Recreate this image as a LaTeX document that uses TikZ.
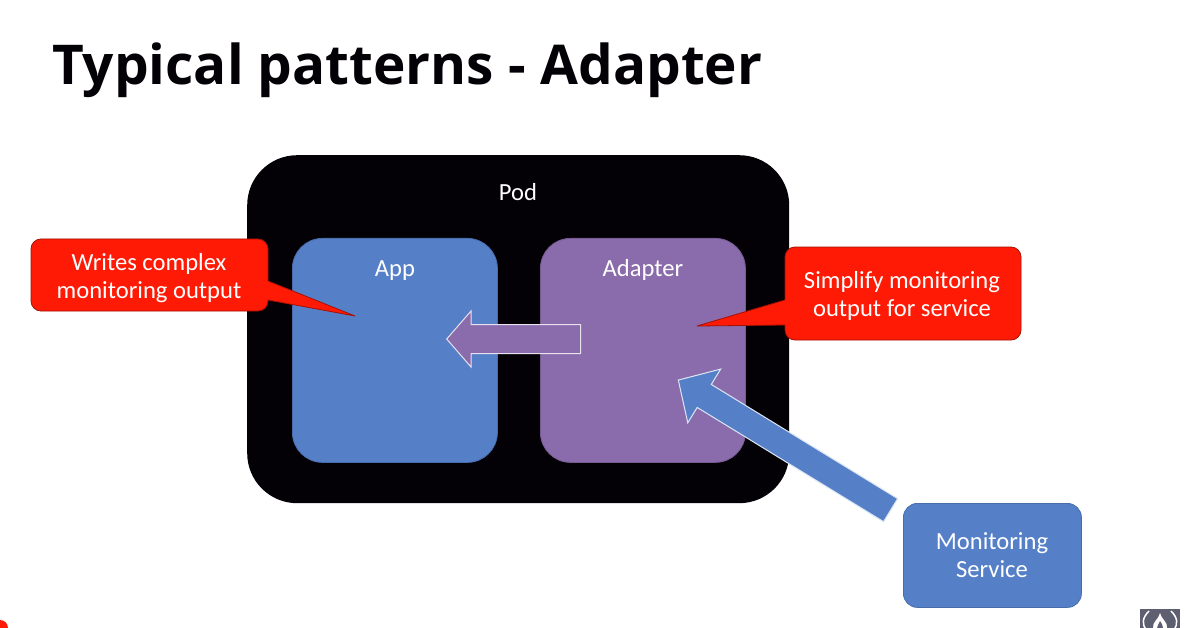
\documentclass[tikz,border=0pt]{standalone}
\usepackage{fontspec}
\setmainfont{Carlito}
\newfontfamily\titlefont{Open Sans}
\usetikzlibrary{shapes.arrows}
\definecolor{podblack}{HTML}{030006}
\definecolor{appblue}{HTML}{5580C8}
\definecolor{adapterpurple}{HTML}{8A6BAB}
\definecolor{calloutred}{HTML}{FF1A05}
\definecolor{logogray}{HTML}{5F5F72}
\begin{document}
\begin{tikzpicture}[x=1pt,y=-1pt,
  box/.style={rectangle,inner sep=0pt,rounded corners=30pt,draw=#1!85!black,fill=#1,line width=0.8pt,anchor=north west},
  caption/.style={text=white,font=\fontsize{24.6}{28}\selectfont,align=center},
  speech/.style={fill=calloutred,draw=calloutred!65!black,line width=0.8pt,line join=round},
  blockarrow/.style={single arrow,inner xsep=0pt,single arrow head indent=0pt,draw=white!80!#1,fill=#1,line width=1pt}]
\useasboundingbox (0,0) rectangle (1190,628);
\fill[white] (0,0) rectangle (1190,628);
\clip (0,0) rectangle (1190,628);

\node [anchor=base west,font=\fontsize{54.9}{60}\titlefont\bfseries,text=podblack,inner sep=0pt] (title) at (52,85) {Typical patterns - Adapter};

\node [rectangle,inner sep=0pt,rounded corners=50pt,fill=podblack,anchor=north west,minimum width=542pt,minimum height=348pt] (pod) at (247,155) {};
\node [caption] (podname) at (518,192) {Pod};
\node [box=appblue,minimum width=205pt,minimum height=224pt] (app) at (292,238) {};
\node [caption] (appname) at (395,271) {App};
\node [box=adapterpurple,minimum width=205pt,minimum height=224pt] (adapter) at (540,238) {};
\node [caption] (adaptername) at (643,270) {Adapter};

\node [blockarrow=adapterpurple,inner ysep=14pt,minimum height=134pt,single arrow head extend=13.5pt,single arrow tip angle=98,rotate=180] (reply) at (520,339) {};
\node [blockarrow=appblue,inner ysep=13pt,minimum height=249pt,single arrow head extend=18pt,single arrow tip angle=92,rotate=148.5] (scrape) at (790,448.5) {};

\draw [speech,rounded corners=10pt] (31,239) -- (268,239) [sharp corners] -- (268,281) -- (355,316) -- (268,300) [rounded corners=10pt] -- (268,311) -- (31,311) -- cycle;
\node [caption] (writes) at (149,278) {Writes complex\\monitoring output};
\draw [speech,rounded corners=10pt] (1021,247) -- (1021,340) -- (785,340) [sharp corners] -- (785,325) -- (697,326) -- (785,300) [rounded corners=10pt] -- (785,247) -- cycle;
\node [caption] (simplify) at (902,296) {Simplify monitoring\\output for service};

\node [box=appblue,rounded corners=14pt,minimum width=178pt,minimum height=104pt] (service) at (903,503) {};
\node [caption] (servicename) at (992,555) {Monitoring\\Service};

\fill [calloutred] (0,628) circle (8pt);
\fill [logogray] (1140,609) rectangle (1180,628);
\draw [white,line width=1.5pt] (1149,611) .. controls (1142,618) and (1142,624) .. (1146,630);
\draw [white,line width=1.5pt] (1171,611) .. controls (1178,618) and (1178,624) .. (1174,630);
\fill [white] (1160,613) .. controls (1161,619) and (1168,622) .. (1167,628) -- (1153,628) .. controls (1152,622) and (1159,619) .. (1160,613);
\fill [logogray] (1160,621) .. controls (1162,624) and (1163,626) .. (1163,628) -- (1157,628) .. controls (1157,626) and (1159,624) .. (1160,621);
\end{tikzpicture}
\end{document}
